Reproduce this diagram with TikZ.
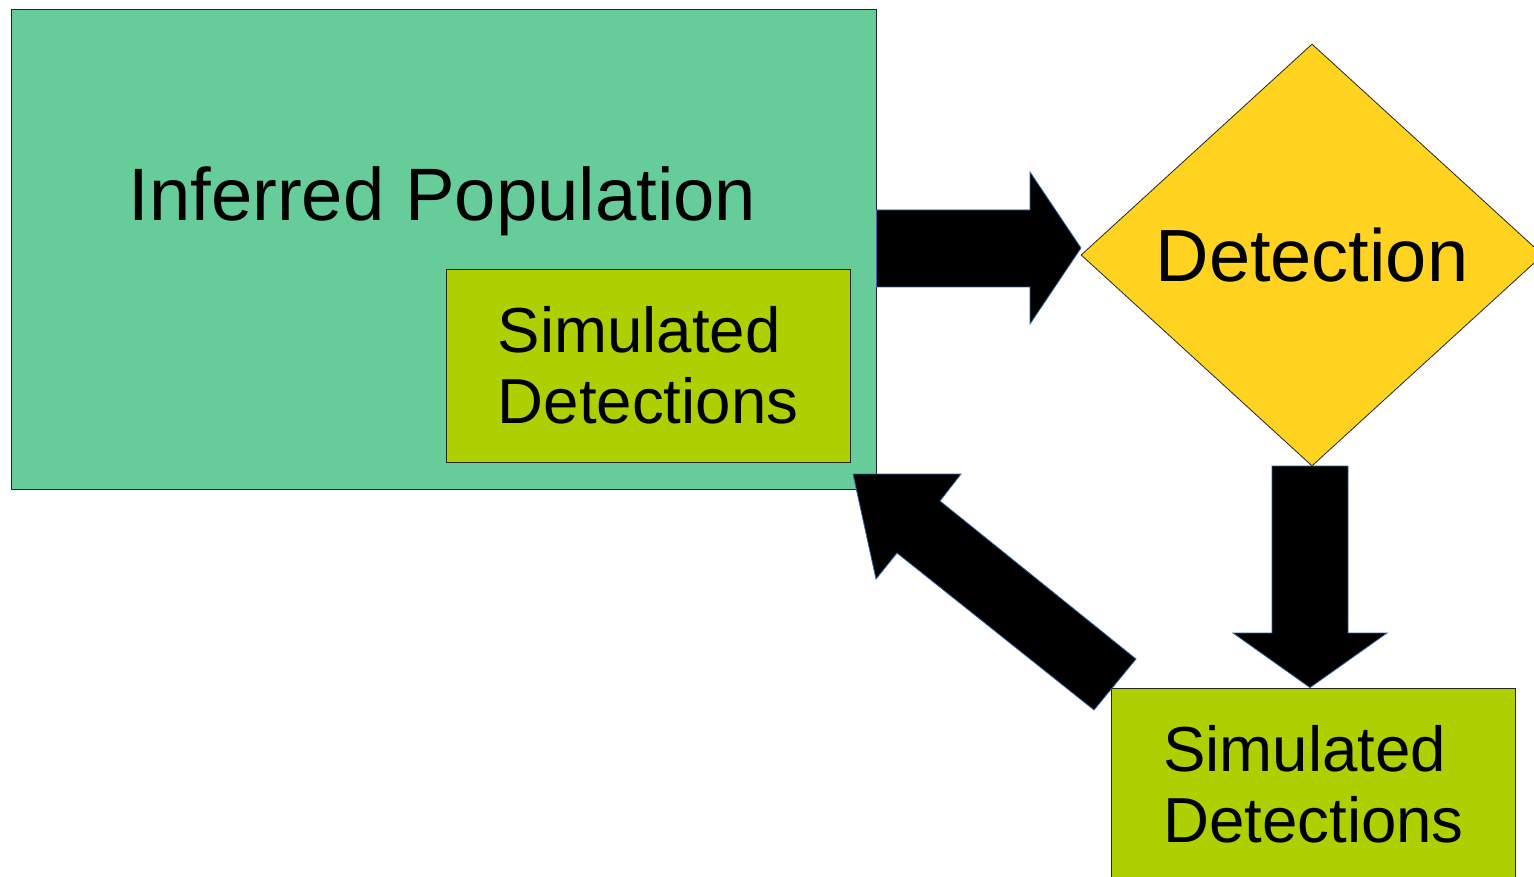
\documentclass[tikz,border=0pt]{standalone}
\usepackage{fontspec}
\setmainfont{Liberation Sans}
\usetikzlibrary{shapes.geometric}
\definecolor{popgreen}{HTML}{66CC99}
\definecolor{simlime}{HTML}{AECF00}
\definecolor{detyellow}{HTML}{FFD320}
\definecolor{arrowedge}{HTML}{3465A4}
\begin{document}
\begin{tikzpicture}[x=1pt,y=-1pt,
  boxframe/.style={draw=black!85, line width=0.8pt},
  simbox/.style={boxframe, fill=simlime, minimum width=404pt, minimum height=193pt,
    inner sep=0pt, align=left, font=\fontsize{63.6}{71}\selectfont},
  bigtext/.style={font=\fontsize{74}{80}\selectfont},
  blockarrow/.style={fill=black, draw=arrowedge, line width=0.8pt, line join=miter}]
\useasboundingbox (0,0) rectangle (1534,877);
% boxes
\node[boxframe, fill=popgreen, minimum width=865pt, minimum height=480pt, inner sep=0pt] (pop) at (443.5,249) {};
\node[bigtext, font=\fontsize{74.3}{80}\selectfont, anchor=base, inner sep=0pt] (poptext) at (442.5,221) {Inferred Population};
\node[simbox] (sim1) at (648,365.5) {Simulated\\Detections};
\node[boxframe, diamond, fill=detyellow, minimum width=462pt, minimum height=422pt,
  inner sep=0pt, bigtext] (det) at (1312,255) {Detection};
\node[simbox] (sim2) at (1313.5,784.5) {Simulated\\Detections};
% block arrows
\draw[blockarrow] (pop.east |- 0,210) -- (1030,210) -- (1030,172) -- (1081,248)
  -- (1030,324) -- (1030,287) -- (pop.east |- 0,287) -- cycle;
\draw[blockarrow] (1272,466) -- (1348,466) -- (1348,633) -- (1387,633) -- (sim2.north -| 1310,0)
  -- (1233,633) -- (1272,633) -- cycle;
\draw[blockarrow] (1136,659) -- (940,501) -- (961,474) -- (853,474) -- (876,579)
  -- (897,553) -- (1094,710) -- cycle;
\end{tikzpicture}
\end{document}
